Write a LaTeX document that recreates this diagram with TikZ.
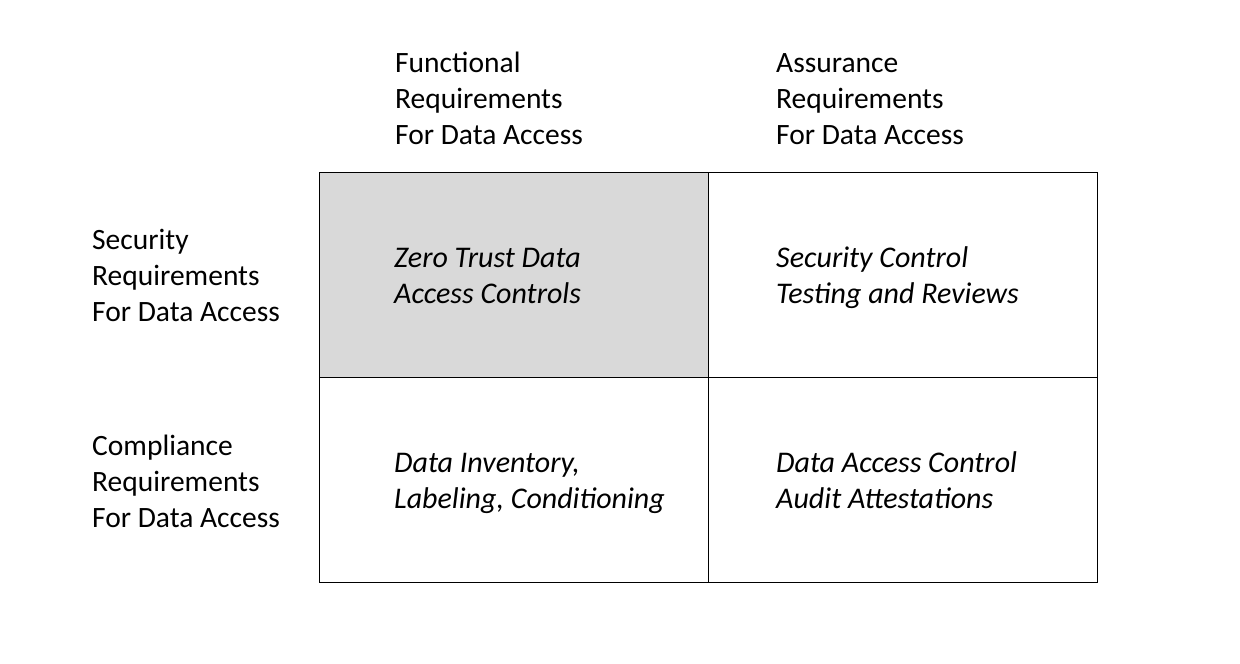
\documentclass[tikz,border=0pt]{standalone}
\usepackage{fontspec}
\setmainfont{Carlito}
\begin{document}
\begin{tikzpicture}[x=1pt,y=-1pt,
  lbl/.style={anchor=base west,align=left,inner sep=0pt,font=\fontsize{29.5}{36}\selectfont},
  celltext/.style={lbl,font=\fontsize{30}{36}\selectfont\itshape},
  cellbox/.style={draw=black,line width=0.8pt,minimum width=389pt,minimum height=205pt,inner sep=0pt,anchor=north west},
]
\useasboundingbox (0,0) rectangle (1240,664);
\node[cellbox,fill={rgb,255:red,217;green,217;blue,217}] (c11) at (319,172) {};
\node[cellbox] (c12) at (708,172) {};
\node[cellbox] (c21) at (319,377) {};
\node[cellbox] (c22) at (708,377) {};
\node[lbl] (h1) at (395,144) {Functional\\Requirements\\For Data Access};
\node[lbl] (h2) at (776,144) {Assurance\\Requirements\\For Data Access};
\node[lbl] (r1) at (92,321) {Security\\Requirements\\For Data Access};
\node[lbl] (r2) at (92,527) {Compliance\\Requirements\\For Data Access};
\node[celltext] (t11) at (394,303) {Zero Trust Data\\Access Controls};
\node[celltext] (t12) at (776,303) {Security Control\\Testing and Reviews};
\node[celltext] (t21) at (394,508) {Data Inventory,\\Labeling, Conditioning};
\node[celltext] (t22) at (776,508) {Data Access Control\\Audit Attestations};
\end{tikzpicture}
\end{document}
